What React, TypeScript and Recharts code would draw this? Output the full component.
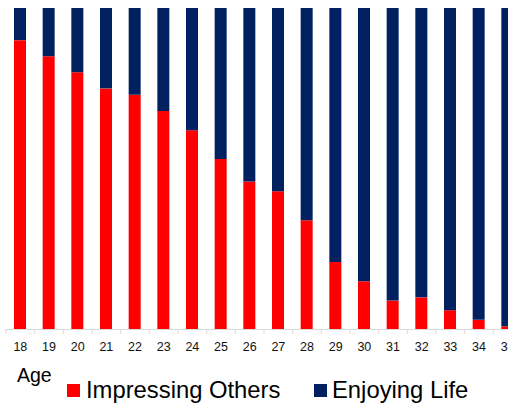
import React from "react";
import { BarChart, Bar, XAxis, YAxis } from "recharts";

const ages = ["18","19","20","21","22","23","24","25","26","27","28","29","30","31","32","33","34","35"];
const impressingOthers = [90, 85, 80, 75, 73, 68, 62, 53, 46, 43, 34, 21, 15, 9, 10, 6, 3, 1];
const enjoyingLife = [10, 15, 20, 25, 27, 32, 38, 47, 54, 57, 66, 79, 85, 91, 90, 94, 97, 99];

const seriesNames = ["Impressing Others", "Enjoying Life"];
const seriesKeys = ["impressing", "enjoying"];
const seriesColors = ["#ff0000", "#002060"];
const axisTitle = "Age";

const data = ages.map((age, i) => ({
  age,
  impressing: impressingOthers[i],
  enjoying: enjoyingLife[i],
}));

const W = 532;
const H = 405;
const M = { top: 8, right: 10, bottom: 0, left: 6 };
const BAND = (W - M.left - M.right) / ages.length;
const FONT = "'Liberation Sans', Arial, sans-serif";

const Tick = (props: any) => {
  const { x, y, payload } = props;
  const lx = x - BAND / 2;
  return (
    <g>
      <line x1={lx} x2={lx} y1={y} y2={y + 4} stroke="#d9d9d9" strokeWidth={1} />
      <text x={x} y={y + 21} textAnchor="middle" fontSize={12.5} fill="#111" fontFamily={FONT}>
        {payload.value}
      </text>
    </g>
  );
};

const legendPos = [
  { sq: 67, tx: 86 },
  { sq: 314, tx: 332 },
];

export default function App() {
  return (
    <div style={{ position: "absolute", left: 0, top: 0, width: 508, height: 405, overflow: "hidden", background: "#fff" }}>
      <BarChart width={W} height={H} data={data} margin={M} barSize={12}>
        <XAxis
          dataKey="age"
          height={75.5}
          interval={0}
          tickSize={0}
          tickMargin={0}
          tick={<Tick />}
          axisLine={{ stroke: "#d9d9d9", strokeWidth: 1 }}
          tickLine={false}
        />
        <YAxis hide domain={[0, 100]} />
        {seriesKeys.map((k, i) => (
          <Bar key={k} dataKey={k} name={seriesNames[i]} stackId="a" fill={seriesColors[i]} isAnimationActive={false} />
        ))}
      </BarChart>
      <svg width={508} height={50} style={{ position: "absolute", left: 0, top: 355, display: "block" }}>
        <text x={17} y={26.7} fontSize={19.5} fill="#000" fontFamily={FONT}>{axisTitle}</text>
        {seriesNames.map((n, i) => (
          <g key={n}>
            <rect x={legendPos[i].sq} y={29} width={13} height={13} fill={seriesColors[i]} />
            <text x={legendPos[i].tx} y={42.7} fontSize={23.8} fill="#000" fontFamily={FONT}>{n}</text>
          </g>
        ))}
      </svg>
    </div>
  );
}
